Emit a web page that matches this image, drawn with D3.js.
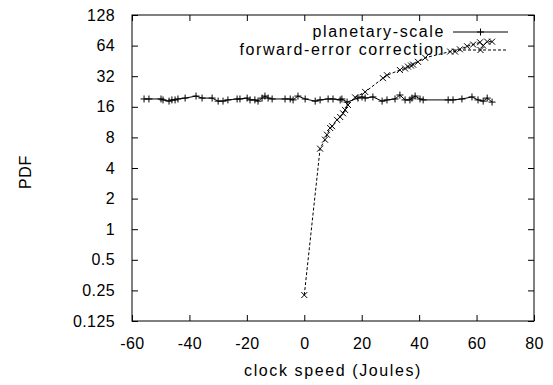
<!DOCTYPE html>
<html>
<head>
<meta charset="utf-8">
<script src="https://cdn.jsdelivr.net/npm/d3@7"></script>
<style>
  html, body { margin: 0; padding: 0; background: #fff; }
  text { font-family: "Liberation Sans", Arial, sans-serif; fill: #000; }
</style>
</head>
<body>
<svg id="chart" width="553" height="385"></svg>
<script>
// ---- data ----
const seriesNames = ["planetary-scale", "forward-error correction"];

const planetaryX = [-55.8, -54.1, -49.9, -49.2, -47.1, -46.1, -45.0, -44.0, -41.5, -37.7,
  -35.6, -32.1, -30.0, -28.3, -26.6, -23.4, -22.4, -19.9, -18.9, -17.2,
  -16.1, -14.7, -13.7, -12.6, -11.2, -6.7, -4.9, -3.9, -2.2, 0.3,
  3.8, 5.5, 8.3, 10.0, 12.5, 13.1, 14.9, 18.7, 20.1, 21.2,
  23.9, 27.1, 28.8, 31.6, 33.3, 35.1, 36.8, 37.5, 38.6, 40.3,
  41.4, 50.1, 51.8, 54.9, 58.4, 60.5, 62.3, 63.7, 65.4];
const planetaryY = [19.1, 19.1, 19.1, 18.7, 18.2, 18.7, 18.7, 19.1, 19.5, 20.4,
  19.5, 19.5, 18.2, 18.2, 18.7, 19.1, 19.1, 19.5, 18.7, 18.7,
  18.2, 19.5, 20.4, 19.5, 19.1, 19.1, 19.1, 18.7, 20.4, 19.1,
  18.2, 18.7, 19.1, 19.1, 18.7, 19.1, 17.8, 19.5, 20.0, 19.5,
  20.0, 18.2, 18.7, 19.1, 20.9, 18.7, 18.7, 19.5, 20.4, 19.1,
  18.7, 18.7, 18.7, 19.1, 20.0, 18.7, 18.2, 19.5, 17.8];

const fecX = [0.0, 5.5, 7.2, 7.9, 9.0, 9.7, 11.4, 12.5, 13.5, 14.2,
  15.2, 17.7, 21.2, 27.4, 28.8, 33.3, 35.1, 36.1, 37.2, 37.9,
  39.6, 42.1, 50.8, 52.5, 54.2, 56.7, 58.8, 61.2, 62.3, 63.7, 65.4];
const fecY = [0.225, 6.2, 7.6, 8.5, 9.9, 10.3, 11.9, 12.7, 13.8, 14.9,
  16.7, 19.8, 22.4, 30.6, 32.7, 36.8, 38.1, 39.8, 40.7, 41.6,
  44.3, 48.6, 55.9, 55.9, 58.8, 63.0, 65.5, 69.0, 64.0, 70.0, 70.0];

const xTicks = [-60, -40, -20, 0, 20, 40, 60, 80];
const xTickLabels = ["-60", "-40", "-20", "0", "20", "40", "60", "80"];
const yTicks = [0.125, 0.25, 0.5, 1, 2, 4, 8, 16, 32, 64, 128];
const yTickLabels = ["0.125", "0.25", "0.5", "1", "2", "4", "8", "16", "32", "64", "128"];
const xLabel = "clock speed (Joules)";
const yLabel = "PDF";

// ---- layout ----
const L = 132, R = 534, T = 15, B = 321;
const svg = d3.select("#chart");

const x = d3.scaleLinear().domain([-60, 80]).range([L, R]);
const y = d3.scaleLog().base(2).domain([0.125, 128]).range([B, T]);

const tickLen = 6;

const gx = svg.append("g").attr("transform", `translate(0,${B})`)
  .call(d3.axisBottom(x).tickValues(xTicks).tickSize(-tickLen).tickPadding(tickLen + 11)
    .tickFormat((d, i) => xTickLabels[i]));
const gxt = svg.append("g").attr("transform", `translate(0,${T})`)
  .call(d3.axisTop(x).tickValues(xTicks).tickSize(-tickLen).tickFormat(""));
const gy = svg.append("g").attr("transform", `translate(${L},0)`)
  .call(d3.axisLeft(y).tickValues(yTicks).tickSize(-tickLen).tickPadding(tickLen + 11)
    .tickFormat((d, i) => yTickLabels[i]));
const gyr = svg.append("g").attr("transform", `translate(${R},0)`)
  .call(d3.axisRight(y).tickValues(yTicks).tickSize(-tickLen).tickFormat(""));

[gx, gxt, gy, gyr].forEach(g => {
  g.select(".domain").remove();
  g.selectAll(".tick line").attr("stroke", "#000").attr("stroke-width", 1);
  g.selectAll("text").attr("font-size", 16).attr("letter-spacing", 0.4)
    .attr("font-family", "Liberation Sans, Arial, sans-serif").attr("fill", "#000");
});

svg.append("rect").attr("x", L).attr("y", T).attr("width", R - L).attr("height", B - T)
  .attr("fill", "none").attr("stroke", "#000").attr("stroke-width", 1);

svg.append("text").attr("x", (L + R) / 2).attr("y", 376).attr("text-anchor", "middle")
  .attr("font-size", 16).attr("letter-spacing", 1.6).text(xLabel);
svg.append("text").attr("transform", `translate(31,${(T + B) / 2 + 4}) rotate(-90)`)
  .attr("text-anchor", "middle").attr("font-size", 16).attr("letter-spacing", 0.6).text(yLabel);

function plus(g, cx, cy) {
  const s = 3.5;
  g.append("path").attr("d", `M${cx - s},${cy}H${cx + s}M${cx},${cy - s}V${cy + s}`)
    .attr("stroke", "#000").attr("stroke-width", 1).attr("fill", "none");
}
function cross(g, cx, cy) {
  const s = 3;
  g.append("path").attr("d", `M${cx - s},${cy - s}L${cx + s},${cy + s}M${cx - s},${cy + s}L${cx + s},${cy - s}`)
    .attr("stroke", "#000").attr("stroke-width", 1).attr("fill", "none");
}

const line = d3.line().x(d => x(d[0])).y(d => y(d[1]));
const pData = planetaryX.map((v, i) => [v, planetaryY[i]]);
const fData = fecX.map((v, i) => [v, fecY[i]]);

const plot = svg.append("g");
plot.append("path").datum(pData).attr("d", line).attr("fill", "none")
  .attr("stroke", "#000").attr("stroke-width", 1);
pData.forEach(d => plus(plot, x(d[0]), y(d[1])));

plot.append("path").datum(fData).attr("d", line).attr("fill", "none")
  .attr("stroke", "#000").attr("stroke-width", 1).attr("stroke-dasharray", "3,2");
fData.forEach(d => cross(plot, x(d[0]), y(d[1])));

const legX = 445, legY = [32, 50], sx0 = 453, sx1 = 508;
seriesNames.forEach((name, i) => {
  svg.append("text").attr("x", legX).attr("y", legY[i] + 5).attr("text-anchor", "end")
    .attr("font-size", 16).attr("letter-spacing", 1.6).text(name);
  const ln = svg.append("line").attr("x1", sx0).attr("x2", sx1).attr("y1", legY[i]).attr("y2", legY[i])
    .attr("stroke", "#000").attr("stroke-width", 1);
  if (i === 1) ln.attr("stroke-dasharray", "3,2");
  if (i === 0) plus(svg, (sx0 + sx1) / 2, legY[i]); else cross(svg, (sx0 + sx1) / 2, legY[i]);
});
</script>
</body>
</html>
